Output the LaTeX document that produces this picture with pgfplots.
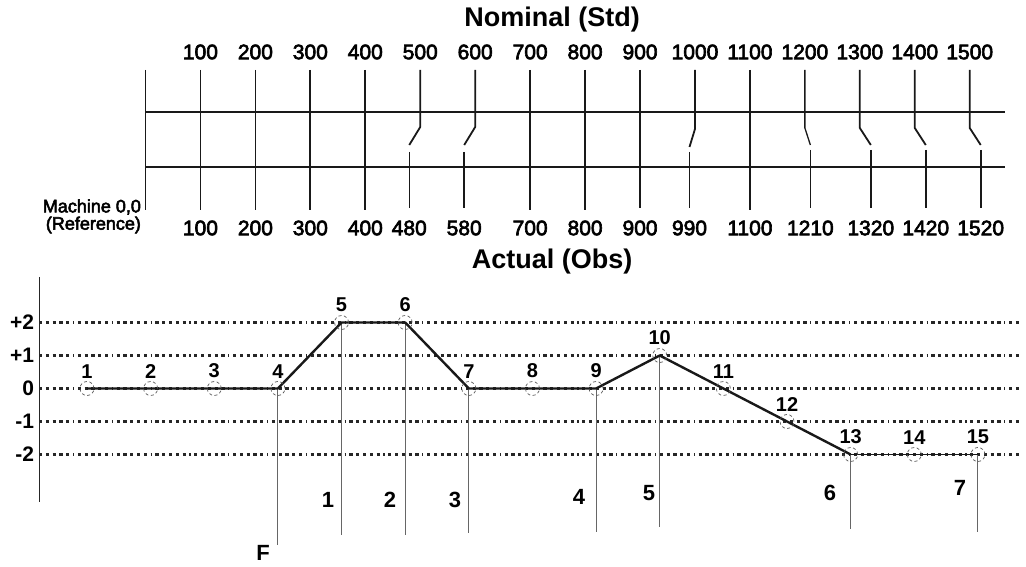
\documentclass[border=0pt]{standalone}
\usepackage{pgfplots}
\pgfplotsset{compat=1.18}
\usepackage{pgfplotstable}
\usepackage{fontspec}
\setmainfont{Liberation Sans}
\newfontfamily\medfont{Liberation Sans}[FakeBold=3]
\pgfplotstableread{
i v
1 0
2 0
3 0
4 0
5 2
6 2
7 0
8 0
9 0
10 1
11 0
12 -1
13 -2
14 -2
15 -2
}\pts
\begin{document}
\begin{tikzpicture}[font=\medfont\fontsize{21}{25}\selectfont]
\useasboundingbox (0,0) rectangle (1026pt,566pt);
% ---------------- top: nominal vs actual scale ----------------
\begin{axis}[at={(0,0)}, anchor=south west, width=1026pt, height=566pt,
  scale only axis, hide axis, clip=false,
  xmin=-264.8, xmax=1602.4, ymin=0, ymax=566,
  ln/.style={black!90, line width=1.8pt}, tn/.style={black!90, line width=1.3pt}]
\addplot[ln] coordinates {(0,496)(0,356)};
\addplot[ln] coordinates {(0,454)(1564,454)};
\addplot[ln] coordinates {(0,399)(1564,399)};
\addplot[tn] coordinates {(100,496)(100,356)};
\addplot[ln] coordinates {(200,496)(200,356)};
\addplot[ln] coordinates {(300,496)(300,356)};
\addplot[ln] coordinates {(400,496)(400,356)};
\addplot[ln] coordinates {(700,496)(700,356)};
\addplot[ln] coordinates {(800,496)(800,356)};
\addplot[tn] coordinates {(900,496)(900,358)};
\addplot[ln] coordinates {(1100,496)(1100,356)};
% jogged lines
\addplot[ln] coordinates {(500,496)(500,439)(480,421)};
\addplot[tn] coordinates {(480,414)(480,358)};
\addplot[ln] coordinates {(600,496)(600,439)(580,421)};
\addplot[ln] coordinates {(580,414)(580,358)};
\addplot[ln] coordinates {(1000,496)(1000,437)(990,419)};
\addplot[ln] coordinates {(990,414)(990,358)};
\addplot[tn] coordinates {(1200,496)(1200,438)(1210,421)};
\addplot[tn] coordinates {(1210,416)(1210,358)};
\addplot[ln] coordinates {(1300,496)(1300,438)(1320,421)};
\addplot[ln] coordinates {(1320,416)(1320,358)};
\addplot[ln] coordinates {(1400,496)(1400,438)(1420,421)};
\addplot[ln] coordinates {(1420,416)(1420,358)};
\addplot[ln] coordinates {(1500,496)(1500,438)(1520,421)};
\addplot[ln] coordinates {(1520,416)(1520,358)};
% labels
\node[font=\bfseries\fontsize{27}{30}\selectfont] at (axis cs:740,546) {Nominal (Std)};
\node[font=\bfseries\fontsize{27}{30}\selectfont] at (axis cs:740,304) {Actual (Obs)};
\node[anchor=east, inner sep=0pt, font=\medfont\fontsize{18}{20}\selectfont] at (axis cs:-8,359) {Machine 0,0};
\node[anchor=east, inner sep=0pt, font=\medfont\fontsize{18}{20}\selectfont] at (axis cs:-8,341) {(Reference)};
\node at (axis cs:100,514) {100};
\node at (axis cs:200,514) {200};
\node at (axis cs:300,514) {300};
\node at (axis cs:400,514) {400};
\node at (axis cs:500,514) {500};
\node at (axis cs:600,514) {600};
\node at (axis cs:700,514) {700};
\node at (axis cs:800,514) {800};
\node at (axis cs:900,514) {900};
\node at (axis cs:1000,514) {1000};
\node at (axis cs:1100,514) {1100};
\node at (axis cs:1200,514) {1200};
\node at (axis cs:1300,514) {1300};
\node at (axis cs:1400,514) {1400};
\node at (axis cs:1500,514) {1500};
\node at (axis cs:100,338) {100};
\node at (axis cs:200,338) {200};
\node at (axis cs:300,338) {300};
\node at (axis cs:400,338) {400};
\node at (axis cs:480,338) {480};
\node at (axis cs:580,338) {580};
\node at (axis cs:700,338) {700};
\node at (axis cs:800,338) {800};
\node at (axis cs:900,338) {900};
\node at (axis cs:990,338) {990};
\node at (axis cs:1100,338) {1100};
\node at (axis cs:1210,338) {1210};
\node at (axis cs:1320,338) {1320};
\node at (axis cs:1420,338) {1420};
\node at (axis cs:1520,338) {1520};
\end{axis}
% ---------------- bottom: error plot ----------------
\begin{axis}[at={(0,0)}, anchor=south west, width=1026pt, height=566pt,
  scale only axis, hide axis, clip=false,
  xmin=-0.367, xmax=15.755, ymin=-5.379, ymax=11.773,
  dl/.style={black!85, line width=2.3pt, dash pattern=on 3.2pt off 3.6pt on 3.2pt off 3.6pt on 3.2pt off 3.6pt on 3.2pt off 3.6pt on 3.2pt off 3.6pt on 1.2pt off 3.6pt},
  vl/.style={black!60, line width=1pt}]
\addplot[black!85, line width=1pt] coordinates {(0.246,3.379)(0.246,-3.44)};
\addplot[dl] coordinates {(0.246,2)(15.66,2)};
\addplot[dl] coordinates {(0.246,1)(15.66,1)};
\addplot[dl] coordinates {(0.246,0)(15.66,0)};
\addplot[dl] coordinates {(0.246,-1)(15.66,-1)};
\addplot[dl] coordinates {(0.246,-2)(15.66,-2)};
% vertical drop lines
\addplot[vl] coordinates {(4,0)(4,-4.74)};
\addplot[vl] coordinates {(5,2)(5,-4.44)};
\addplot[vl] coordinates {(6,2)(6,-4.44)};
\addplot[vl] coordinates {(7,0)(7,-4.38)};
\addplot[vl] coordinates {(9,0)(9,-4.35)};
\addplot[vl] coordinates {(10,1)(10,-4.2)};
\addplot[vl] coordinates {(13,-2)(13,-4.26)};
\addplot[vl] coordinates {(15,-2)(15,-4.35)};
% error line
\addplot[black!90, line width=2.4pt, line join=round] coordinates {(1,0)(2,0)(3,0)(4,0)(5,2)(6,2)(7,0)(8,0)(9,0)(10,1)(11,0)(12,-1)(13,-2)};
\addplot[black!90, line width=1.5pt] coordinates {(13,-2)(14,-2)(15,-2)};
\addplot[only marks, mark=o, mark size=7pt,
  mark options={black!65, line width=0.7pt, dash pattern=on 3pt off 2.5pt},
  nodes near coords, point meta=explicit symbolic,
  every node near coord/.append style={text=black, font=\bfseries\fontsize{20}{24}\selectfont, inner sep=0pt, anchor=south, yshift=10pt}]
  table[x=i, y=v, meta=i] {\pts};
% y labels
\node[anchor=east, inner sep=0pt, font=\bfseries\fontsize{21}{25}\selectfont] at (axis cs:0.17,2) {+2};
\node[anchor=east, inner sep=0pt, font=\bfseries\fontsize{21}{25}\selectfont] at (axis cs:0.17,1) {+1};
\node[anchor=east, inner sep=0pt, font=\bfseries\fontsize{21}{25}\selectfont] at (axis cs:0.17,0) {0};
\node[anchor=east, inner sep=0pt, font=\bfseries\fontsize{21}{25}\selectfont] at (axis cs:0.17,-1) {-1};
\node[anchor=east, inner sep=0pt, font=\bfseries\fontsize{21}{25}\selectfont] at (axis cs:0.17,-2) {-2};
% segment labels
\node[font=\bfseries\fontsize{22}{26}\selectfont] at (axis cs:3.766,-4.985) {F};
\node[font=\bfseries\fontsize{22}{26}\selectfont] at (axis cs:4.787,-3.379) {1};
\node[font=\bfseries\fontsize{22}{26}\selectfont] at (axis cs:5.761,-3.379) {2};
\node[font=\bfseries\fontsize{22}{26}\selectfont] at (axis cs:6.783,-3.379) {3};
\node[font=\bfseries\fontsize{22}{26}\selectfont] at (axis cs:8.731,-3.288) {4};
\node[font=\bfseries\fontsize{22}{26}\selectfont] at (axis cs:9.83,-3.167) {5};
\node[font=\bfseries\fontsize{22}{26}\selectfont] at (axis cs:12.675,-3.167) {6};
\node[font=\bfseries\fontsize{22}{26}\selectfont] at (axis cs:14.718,-3.015) {7};
\end{axis}
\end{tikzpicture}
\end{document}
